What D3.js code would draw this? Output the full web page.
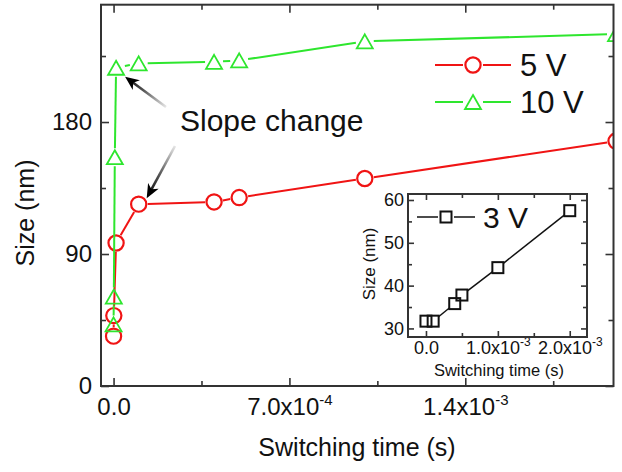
<!DOCTYPE html>
<html>
<head>
<meta charset="utf-8">
<script src="https://cdn.jsdelivr.net/npm/d3@7"></script>
<style>
body { margin: 0; background: #fff; }
text { font-family: "Liberation Sans", Arial, Helvetica, sans-serif; fill: #111; }
</style>
</head>
<body>
<div id="chart"></div>
<script>
// main plot data: switching time (s) vs size (nm)
var time5 = [0, 1e-6, 1e-5, 1e-4, 4e-4, 5e-4, 1e-3, 2e-3];
var size5 = [34, 48, 97.5, 124, 125.5, 128.5, 141.5, 167];
var time10 = [0, 1e-6, 5e-6, 1e-5, 1e-4, 4e-4, 5e-4, 1e-3, 2e-3];
var size10 = [42, 61, 156, 217, 220, 221, 222, 235, 240];

// inset data (3 V)
var time3 = [0, 1e-4, 4e-4, 5e-4, 1e-3, 2e-3];
var size3 = [31.7, 31.7, 35.8, 37.8, 44.2, 57.5];

var xTicks = [0, 7e-4, 1.4e-3];
var xTickLabels = ["0.0", "7.0x10^-4", "1.4x10^-3"];
var xMinor = [3.5e-4, 1.05e-3, 1.75e-3];
var yTicks = [0, 90, 180];
var yMinor = [45, 135, 225];

var ixTicks = [0, 1e-3, 2e-3];
var ixTickLabels = ["0.0", "1.0x10^-3", "2.0x10^-3"];
var ixMinor = [5e-4, 1.5e-3];
var iyTicks = [30, 40, 50, 60];
var iyMinor = [35, 45, 55];

var RED = "#f01414", GREEN = "#2ee62e";

var svg = d3.select("#chart").append("svg")
    .attr("width", 622).attr("height", 472);
svg.append("rect").attr("width", 622).attr("height", 472).attr("fill", "#fff");

var m = { left: 101, right: 613.5, top: 4.7, bottom: 386 };
var x = d3.scaleLinear().domain([-5e-5, 1.99e-3]).range([m.left, m.right]);
var y = d3.scaleLinear().domain([0, 260]).range([m.bottom, m.top]);

// put superscripts into labels like "7.0x10^-4"
function supLabels(sel, supSize, raise) {
    sel.each(function (d) {
        var t = d3.select(this), s = t.text();
        if (s.indexOf("^") < 0) return;
        var parts = s.split("^");
        t.text("");
        t.append("tspan").text(parts[0]);
        t.append("tspan").attr("dy", -raise).attr("font-size", supSize).text(parts[1]);
    });
}

function styleAxis(g, fs) {
    g.select(".domain").remove();
    g.selectAll("line").attr("stroke", "#333").attr("stroke-width", 1.6);
    g.selectAll("text").attr("font-size", fs)
        .attr("font-family", "'Liberation Sans', Arial, sans-serif").attr("fill", "#111");
}

function drawFrameAxes(g, xs, ys, b, o) {
    // major + minor ticks on all four sides, pointing inward
    var axB = g.append("g").attr("transform", "translate(0," + b.bottom + ")")
        .call(d3.axisBottom(xs).tickValues(o.xTicks).tickSize(-o.major).tickPadding(o.xPad)
            .tickFormat(function (d, i) { return o.xLabels[i]; }));
    styleAxis(axB, o.fs);
    supLabels(axB.selectAll("text"), o.supFs, o.raise);
    var axL = g.append("g").attr("transform", "translate(" + b.left + ",0)")
        .call(d3.axisLeft(ys).tickValues(o.yTicks).tickSize(-o.major).tickPadding(o.yPad)
            .tickFormat(d3.format("d")));
    styleAxis(axL, o.fs);
    [[d3.axisBottom, "translate(0," + b.bottom + ")", xs, o.xMinor],
     [d3.axisTop, "translate(0," + b.top + ")", xs, o.xMinor],
     [d3.axisLeft, "translate(" + b.left + ",0)", ys, o.yMinor],
     [d3.axisRight, "translate(" + b.right + ",0)", ys, o.yMinor]].forEach(function (a) {
        styleAxis(g.append("g").attr("transform", a[1])
            .call(a[0](a[2]).tickValues(a[3]).tickSize(-o.minor).tickFormat("")), o.fs);
    });
    styleAxis(g.append("g").attr("transform", "translate(0," + b.top + ")")
        .call(d3.axisTop(xs).tickValues(o.xTicks).tickSize(-o.major).tickFormat("")), o.fs);
    styleAxis(g.append("g").attr("transform", "translate(" + b.right + ",0)")
        .call(d3.axisRight(ys).tickValues(o.yTicks).tickSize(-o.major).tickFormat("")), o.fs);
    g.append("rect")
        .attr("x", b.left).attr("y", b.top)
        .attr("width", b.right - b.left).attr("height", b.bottom - b.top)
        .attr("fill", "none").attr("stroke", "#333").attr("stroke-width", 2);
}

// Origin style line: gaps around each marker
function gapSegments(pts, gap) {
    var segs = [];
    for (var i = 1; i < pts.length; i++) {
        var a = pts[i - 1], b = pts[i];
        var dx = b[0] - a[0], dy = b[1] - a[1], len = Math.hypot(dx, dy);
        if (len <= 2 * gap) continue;
        var ux = dx / len, uy = dy / len;
        segs.push([[a[0] + ux * gap, a[1] + uy * gap], [b[0] - ux * gap, b[1] - uy * gap]]);
    }
    return segs;
}

var line = d3.line();
var triPath = "M0,-7L8,7L-8,7Z";

svg.append("clipPath").attr("id", "clipMain").append("rect")
    .attr("x", m.left).attr("y", m.top)
    .attr("width", m.right - m.left).attr("height", m.bottom - m.top);

var plot = svg.append("g").attr("clip-path", "url(#clipMain)");

function drawSeries(times, sizes, color, marker) {
    var pts = times.map(function (t, i) { return [x(t), y(sizes[i])]; });
    plot.selectAll(null).data(gapSegments(pts, 9)).enter().append("path")
        .attr("d", line).attr("fill", "none").attr("stroke", color).attr("stroke-width", 2);
    if (marker === "circle") {
        plot.selectAll(null).data(pts).enter().append("circle")
            .attr("cx", function (d) { return d[0]; }).attr("cy", function (d) { return d[1]; })
            .attr("r", 7.6).attr("fill", "none").attr("stroke", color).attr("stroke-width", 2.2);
    } else {
        plot.selectAll(null).data(pts).enter().append("path")
            .attr("transform", function (d) { return "translate(" + d[0] + "," + d[1] + ")"; })
            .attr("d", triPath).attr("fill", "none").attr("stroke", color).attr("stroke-width", 1.8);
    }
}
drawSeries(time5, size5, RED, "circle");
drawSeries(time10, size10, GREEN, "triangle");

drawFrameAxes(svg.append("g"), x, y, m, {
    xTicks: xTicks, xLabels: xTickLabels, xMinor: xMinor, yTicks: yTicks, yMinor: yMinor,
    major: 8, minor: 5, xPad: 12, yPad: 9, fs: 24, supFs: 15, raise: 10
});

svg.append("text").attr("x", 357).attr("y", 456).attr("text-anchor", "middle")
    .attr("font-size", 25).text("Switching time (s)");
svg.append("text").attr("transform", "translate(34,213) rotate(-90)").attr("text-anchor", "middle")
    .attr("font-size", 25).text("Size (nm)");

// legend
var legend = svg.append("g");
[["5 V", RED, "circle", 65], ["10 V", GREEN, "triangle", 102]].forEach(function (l) {
    legend.append("line").attr("x1", 435).attr("x2", 463).attr("y1", l[3]).attr("y2", l[3])
        .attr("stroke", l[1]).attr("stroke-width", 2);
    legend.append("line").attr("x1", 483).attr("x2", 511).attr("y1", l[3]).attr("y2", l[3])
        .attr("stroke", l[1]).attr("stroke-width", 2);
    if (l[2] === "circle") {
        legend.append("circle").attr("cx", 473).attr("cy", l[3]).attr("r", 7.6)
            .attr("fill", "none").attr("stroke", l[1]).attr("stroke-width", 2.2);
    } else {
        legend.append("path").attr("transform", "translate(473," + l[3] + ")").attr("d", triPath)
            .attr("fill", "none").attr("stroke", l[1]).attr("stroke-width", 1.8);
    }
    legend.append("text").attr("x", 520).attr("y", l[3] + 11).attr("font-size", 31).text(l[0]);
});

// annotation
svg.append("text").attr("x", 180).attr("y", 131).attr("font-size", 30).text("Slope change");

var defs = svg.append("defs");
function arrow(id, tail, tip) {
    var gr = defs.append("linearGradient").attr("id", id).attr("gradientUnits", "userSpaceOnUse")
        .attr("x1", tail[0]).attr("y1", tail[1]).attr("x2", tip[0]).attr("y2", tip[1]);
    gr.append("stop").attr("offset", "0%").attr("stop-color", "#e6e6e6");
    gr.append("stop").attr("offset", "55%").attr("stop-color", "#555");
    gr.append("stop").attr("offset", "100%").attr("stop-color", "#000");
    var ang = Math.atan2(tip[1] - tail[1], tip[0] - tail[0]) * 180 / Math.PI;
    var len = Math.hypot(tip[0] - tail[0], tip[1] - tail[1]);
    var ux = (tip[0] - tail[0]) / len, uy = (tip[1] - tail[1]) / len;
    svg.append("line").attr("x1", tail[0]).attr("y1", tail[1])
        .attr("x2", tip[0] - ux * 8).attr("y2", tip[1] - uy * 8)
        .attr("stroke", "url(#" + id + ")").attr("stroke-width", 2.6);
    svg.append("path").attr("transform", "translate(" + tip[0] + "," + tip[1] + ") rotate(" + ang + ")")
        .attr("d", "M0,0L-14,-6L-10,0L-14,6Z").attr("fill", "#000");
}
arrow("ga1", [166, 107], [x(time10[3]) + 9, y(size10[3]) + 9]);
arrow("ga2", [175, 146], [x(time5[3]) + 8, y(size5[3]) - 6]);

// inset
var ib = { left: 408, right: 587, top: 194, bottom: 337 };
var xi = d3.scaleLinear().domain([-2.5e-4, 2.24e-3]).range([ib.left, ib.right]);
var yi = d3.scaleLinear().domain([28, 61.4]).range([ib.bottom, ib.top]);
var inset = svg.append("g");
inset.append("rect").attr("x", ib.left).attr("y", ib.top)
    .attr("width", ib.right - ib.left).attr("height", ib.bottom - ib.top).attr("fill", "#fff");

var ipts = time3.map(function (t, i) { return [xi(t), yi(size3[i])]; });
inset.selectAll(null).data(gapSegments(ipts, 7)).enter().append("path")
    .attr("d", line).attr("fill", "none").attr("stroke", "#111").attr("stroke-width", 1.5);
inset.selectAll(null).data(ipts).enter().append("rect")
    .attr("x", function (d) { return d[0] - 5.5; }).attr("y", function (d) { return d[1] - 5.5; })
    .attr("width", 11).attr("height", 11).attr("fill", "none").attr("stroke", "#111").attr("stroke-width", 2);

drawFrameAxes(inset, xi, yi, ib, {
    xTicks: ixTicks, xLabels: ixTickLabels, xMinor: ixMinor, yTicks: iyTicks, yMinor: iyMinor,
    major: 6, minor: 4, xPad: 4, yPad: 4, fs: 18, supFs: 12, raise: 8
});

inset.append("text").attr("x", 499).attr("y", 376).attr("text-anchor", "middle")
    .attr("font-size", 16.5).text("Switching time (s)");
inset.append("text").attr("transform", "translate(375,264) rotate(-90)").attr("text-anchor", "middle")
    .attr("font-size", 17).text("Size (nm)");

inset.append("line").attr("x1", 417).attr("x2", 438).attr("y1", 217).attr("y2", 217)
    .attr("stroke", "#111").attr("stroke-width", 1.5);
inset.append("line").attr("x1", 454).attr("x2", 475).attr("y1", 217).attr("y2", 217)
    .attr("stroke", "#111").attr("stroke-width", 1.5);
inset.append("rect").attr("x", 440.5).attr("y", 211.5).attr("width", 11).attr("height", 11)
    .attr("fill", "none").attr("stroke", "#111").attr("stroke-width", 2);
inset.append("text").attr("x", 483).attr("y", 228).attr("font-size", 30).text("3 V");
</script>
</body>
</html>
